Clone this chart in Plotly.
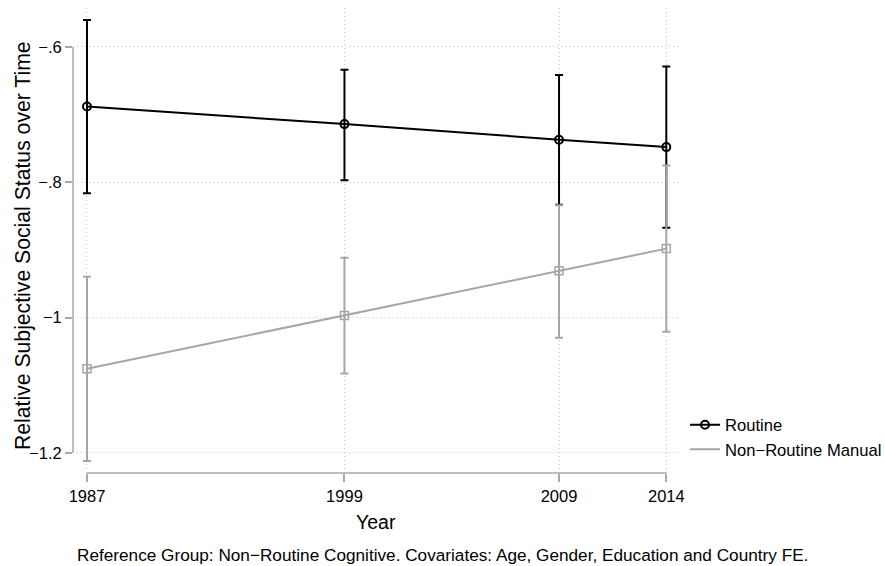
import plotly.graph_objects as go

years = [1987, 1999, 2009, 2014]
year_labels = ["1987", "1999", "2009", "2014"]

routine = [-0.688, -0.714, -0.737, -0.748]
routine_hi = [-0.560, -0.6335, -0.6414, -0.629]
routine_lo = [-0.816, -0.797, -0.833, -0.867]

nrm = [-1.0755, -0.9967, -0.9306, -0.898]
nrm_hi = [-0.9395, -0.9114, -0.834, -0.775]
nrm_lo = [-1.212, -1.0824, -1.0297, -1.0208]

y_ticks = [-0.6, -0.8, -1.0, -1.2]
y_labels = ["\u2212.6", "\u2212.8", "\u22121", "\u22121.2"]

BLACK = "#000000"
GRAY = "#a6a6a6"
AXIS = "#a9a9a9"
GRID = "#c8c8c8"
FONT = "Liberation Sans, Arial, Helvetica, sans-serif"

def err(vals, hi, lo):
    return dict(type="data", symmetric=False,
                array=[h - v for h, v in zip(hi, vals)],
                arrayminus=[v - l for v, l in zip(vals, lo)])

fig = go.Figure()
e1 = err(routine, routine_hi, routine_lo)
e1.update(color=BLACK, thickness=2, width=4)
fig.add_trace(go.Scatter(x=years, y=routine, mode="lines+markers", name="Routine",
                         line=dict(color=BLACK, width=2),
                         marker=dict(symbol="circle-open", size=8, color=BLACK, line=dict(width=2)),
                         error_y=e1, showlegend=True))
e2 = err(nrm, nrm_hi, nrm_lo)
e2.update(color=GRAY, thickness=2, width=4)
fig.add_trace(go.Scatter(x=years, y=nrm, mode="lines+markers", name="Non\u2212Routine Manual",
                         line=dict(color=GRAY, width=2),
                         marker=dict(symbol="square-open", size=8, color=GRAY, line=dict(width=1.5)),
                         error_y=e2, showlegend=False))
fig.add_trace(go.Scatter(x=[None], y=[None], mode="lines", name="Non\u2212Routine Manual",
                         line=dict(color=GRAY, width=2), showlegend=True))

# partial axis lines (Stata style)
fig.add_shape(type="line", xref="x domain", yref="y", x0=0, x1=0, y0=y_ticks[0], y1=y_ticks[-1],
              line=dict(color=AXIS, width=1.5))
fig.add_shape(type="line", xref="x", yref="y domain", x0=years[0], x1=years[-1], y0=0, y1=0,
              line=dict(color=AXIS, width=1.5))

fig.update_layout(
    width=885, height=566,
    margin=dict(l=73, r=207, t=8, b=93, autoexpand=False),
    paper_bgcolor="white", plot_bgcolor="white",
    font=dict(family=FONT, size=16, color="#000000"),
    showlegend=True,
    legend=dict(x=(685 - 73) / 605, y=0.141, xanchor="left", yanchor="top",
                font=dict(size=16.6), itemwidth=30, tracegroupgap=0,
                bgcolor="rgba(0,0,0,0)"),
    xaxis=dict(range=[1986.348, 2014.545], tickvals=years, ticktext=year_labels,
               showgrid=True, gridcolor=GRID, griddash="1px,3px", gridwidth=1,
               zeroline=False, showline=False, ticks="outside", ticklen=8,
               tickcolor=AXIS, tickwidth=1.5, tickfont=dict(size=16.5)),
    yaxis=dict(range=[-1.2296, -0.5424], tickvals=y_ticks, ticktext=y_labels,
               showgrid=True, gridcolor=GRID, griddash="1px,3px", gridwidth=1,
               zeroline=False, showline=False, ticks="outside", ticklen=7,
               tickcolor=AXIS, tickwidth=1.5, tickfont=dict(size=16.5)),
)

fig.add_annotation(text="Year", xref="paper", yref="paper", x=0.5, y=-(522 - 473) / 465,
                   xanchor="center", yanchor="middle", showarrow=False,
                   font=dict(size=19.5))
fig.add_annotation(text="Relative Subjective Social Status over Time", xref="paper", yref="paper",
                   x=-(73 - 23) / 605, y=(473 - 246) / 465, textangle=-90,
                   xanchor="center", yanchor="middle", showarrow=False,
                   font=dict(size=21.2))
fig.add_annotation(text="Reference Group: Non\u2212Routine Cognitive. Covariates: Age, Gender, Education and Country FE.",
                   xref="paper", yref="paper", x=(442 - 73) / 605, y=-(555 - 473) / 465,
                   xanchor="center", yanchor="middle", showarrow=False,
                   font=dict(size=17.2))

fig.write_html("out.html")
